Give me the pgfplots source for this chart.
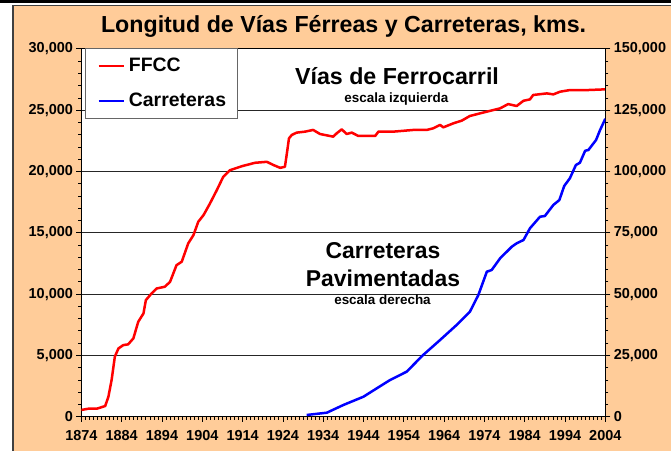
\documentclass[border=0pt]{standalone}
\usepackage{pgfplots}
\pgfplotsset{compat=1.18}
\usepackage{fontspec}
\setmainfont{Liberation Sans}
\definecolor{panel}{RGB}{255,204,153}
\pgfplotstableread{
yr val
1874 550
1875.7 650
1877.8 650
1879.9 870
1880.7 1630
1881.5 3000
1882.3 4900
1883.2 5570
1884.4 5840
1885.6 5900
1886.9 6390
1888.1 7740
1889.4 8420
1890 9510
1891.4 10050
1892.7 10460
1894.7 10600
1896 11000
1897.6 12360
1898.9 12640
1900.5 14130
1901.8 14810
1903 15900
1904.3 16440
1905.9 17390
1907.6 18480
1909.2 19570
1910.9 20110
1913.8 20430
1917.1 20710
1920 20790
1921.7 20520
1923.3 20300
1924.5 20380
1925.1 21740
1925.5 22700
1926.2 22980
1927.4 23170
1929.5 23250
1931.5 23390
1933.2 23060
1936.5 22840
1937.3 23100
1938.6 23440
1939.8 23060
1941.1 23170
1942.7 22900
1946.9 22900
1947.7 23250
1951.4 23250
1956.4 23390
1959.7 23390
1961.3 23520
1963 23800
1963.8 23600
1966.3 23930
1968.4 24150
1970.4 24530
1974.6 24880
1977.9 25150
1979.9 25500
1982 25340
1983.7 25770
1985.3 25880
1986.1 26240
1989.5 26370
1991.1 26290
1992.8 26510
1995.2 26640
1999.4 26640
2004 26700
}\ffcc
\pgfplotstableread{
yr val
1929.9 700
1934.9 1630
1939 4770
1944 8160
1947.3 11580
1950.6 14970
1954.7 18350
1958.8 25160
1963 31280
1967.1 37400
1970.4 42820
1972.5 49630
1974.6 59130
1975.8 59820
1977.9 64590
1980.8 69330
1982 70710
1983.7 72060
1985.3 76830
1987.8 81560
1989 81840
1991.1 86330
1992.6 88370
1993.8 94080
1995.2 97220
1996.7 102640
1997.7 103580
1999 108470
1999.8 108760
2001.7 112840
2002.7 116910
2004 121500
}\carr
\pgfplotsset{
  common/.style={
    at={(81.4bp,34.3bp)}, anchor=south west, scale only axis,
    width=523.9bp, height=367.8bp,
    xmin=1874, xmax=2004,
    tick align=outside, major tick length=5bp, minor tick length=3bp,
    every tick/.style={black, line width=0.8bp},
    axis line style={black, line width=0.9bp},
    scaled x ticks=false, scaled y ticks=false,
    /pgf/number format/assume math mode=true,
    tick label style={font=\bfseries\fontsize{14.5}{14.5}\selectfont},
    yticklabel={\pgfmathprintnumber[fixed, precision=0, 1000 sep={,}]{\tick}},
  }
}
\begin{document}
\begin{tikzpicture}[x=1bp,y=1bp]
\useasboundingbox (0,0) rectangle (671,451);
\fill[white] (0,0) rectangle (671,451);
\fill[panel] (12,0) rectangle (671,446);
\draw[black!75, line width=1.5bp] (12.75,-2) -- (12.75,445.25) -- (675,445.25);
\fill[black] (0,448) rectangle (671,451);
\begin{axis}[common,
  ymin=0, ymax=30000,
  axis background/.style={fill=white},
  xtick={1874,1884,...,2004}, minor x tick num=9,
  ytick={0,5000,...,30000}, minor y tick num=4,
  xtick pos=bottom, ytick pos=left,
  ymajorgrids, major grid style={black!85, line width=0.8bp},
  xticklabel={\pgfmathprintnumber[fixed, precision=0, 1000 sep={}]{\tick}},
  xticklabel style={yshift=-5bp},
  legend style={at={(0.00687,1.0025)}, anchor=north west, draw=black!60,
    line width=0.8bp, fill=white, inner xsep=12bp, inner ysep=10bp,
    row sep=20bp, column sep=4bp,
    font=\bfseries\fontsize{19.5}{19.5}\selectfont,
    nodes={inner sep=0pt, anchor=west}},
  legend cell align=left,
  legend image code/.code={\draw[#1] (0bp,0bp) -- (25bp,0bp);},
]
\addplot[red, line width=2.5bp, line join=round] table[x=yr, y=val] {\ffcc};
\addlegendentry{\makebox[96bp][l]{FFCC}}
\addlegendimage{blue, line width=2.5bp}
\addlegendentry{\makebox[96bp][l]{Carreteras}}
\end{axis}
\begin{axis}[common,
  ymin=0, ymax=150000,
  axis x line=none, axis y line*=right,
  ytick={0,25000,...,150000}, minor y tick num=4,
]
\addplot[blue, line width=2.5bp, line join=round] table[x=yr, y=val] {\carr};
\end{axis}
\node[font=\bfseries\fontsize{23.3}{23.3}\selectfont, anchor=base] at (343.6,418.7) {Longitud de Vías Férreas y Carreteras, kms.};
\node[font=\bfseries\fontsize{23.3}{23.3}\selectfont, anchor=base] at (397,366) {Vías de Ferrocarril};
\node[font=\bfseries\fontsize{13.5}{13.5}\selectfont, anchor=base] at (396.3,348) {escala izquierda};
\node[font=\bfseries\fontsize{23}{23}\selectfont, anchor=base] at (383,192.7) {Carreteras};
\node[font=\bfseries\fontsize{23}{23}\selectfont, anchor=base] at (383,164.3) {Pavimentadas};
\node[font=\bfseries\fontsize{13.5}{13.5}\selectfont, anchor=base] at (382.5,146) {escala derecha};
\end{tikzpicture}
\end{document}
